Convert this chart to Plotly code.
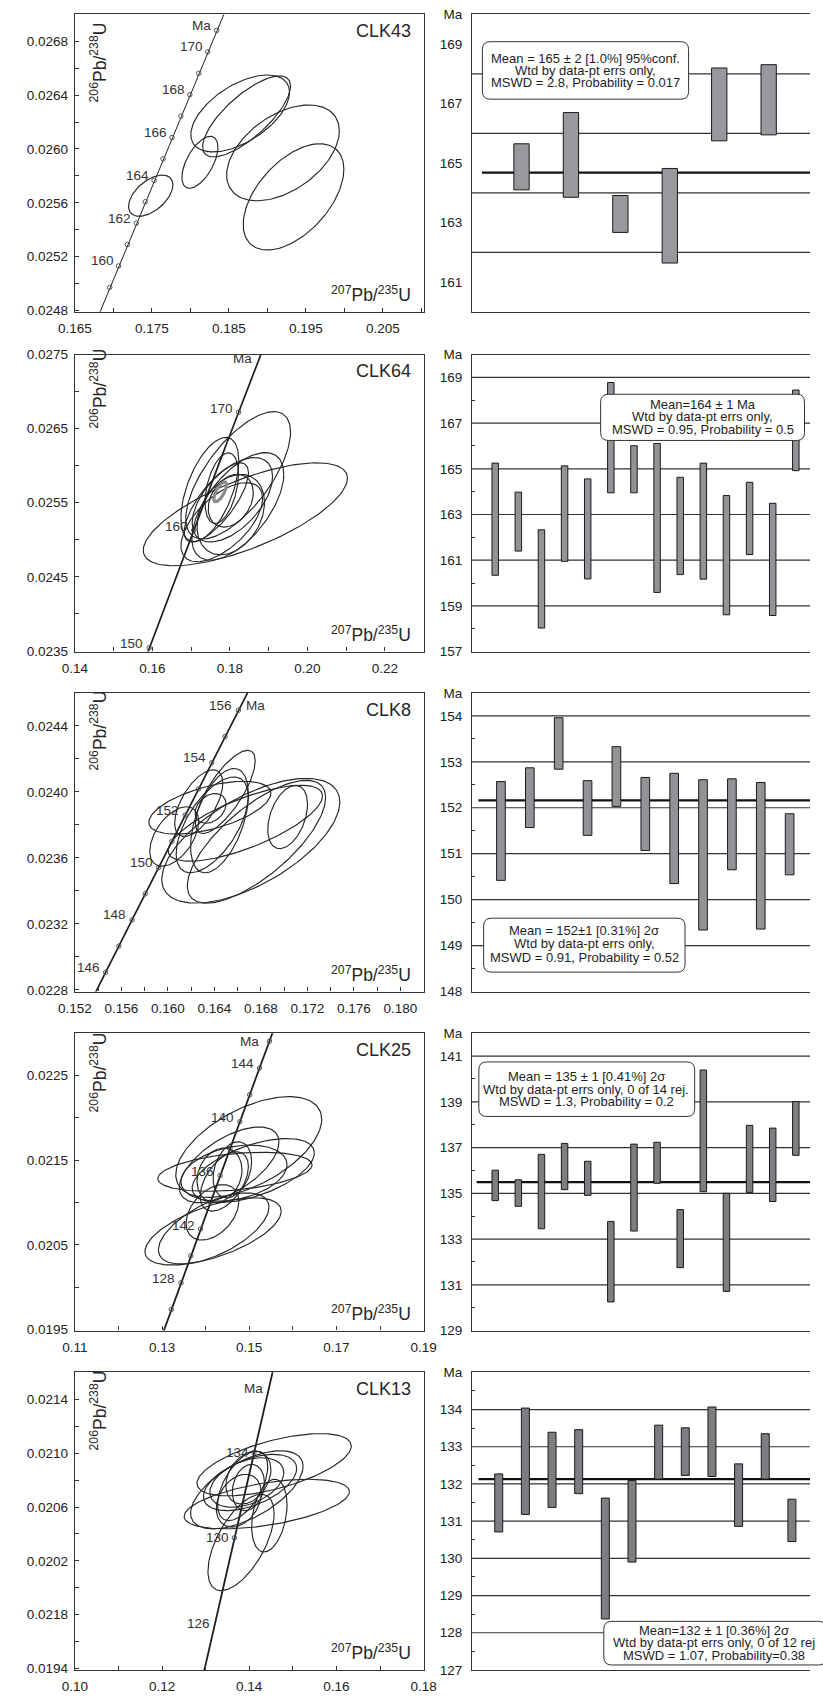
import numpy as np
import plotly.graph_objects as go

W, H = 823, 1703
FONT = "Arial, 'Liberation Sans', sans-serif"
INK = "#262626"

# U decay constants, per Ma
LAMBDA_238 = 1.55125e-4
LAMBDA_235 = 9.8485e-4

# ---------------- CLK43 ----------------
# ellipses: (207Pb/235U, 206Pb/238U, half-width x, half-width y, rho)
clk43_ellipses = [
    (0.17485, 0.025653, 0.00288, 0.000153, 0.52),
    (0.18124, 0.025901, 0.00234, 0.000193, 0.58),
    (0.18647, 0.026264, 0.00641, 0.000286, 0.55),
    (0.18730, 0.026242, 0.00571, 0.000301, 0.75),
    (0.19203, 0.025971, 0.00732, 0.000356, 0.46),
    (0.19340, 0.025644, 0.00654, 0.000395, 0.52),
]
clk43_marker_ages = list(range(159, 172))
clk43_age_labels = {160: "160", 162: "162", 164: "164", 166: "166", 168: "168", 170: "170"}
clk43_ma_label = (171, "right", -4, 5)
clk43_hi = [165.65, 166.70, 163.91, 164.82, 168.20, 168.31]
clk43_lo = [164.10, 163.85, 162.67, 161.64, 165.75, 165.95]
clk43_mean = 164.68
clk43_text = ["Mean = 165 ± 2 [1.0%] 95%conf.", "Wtd by data-pt errs only,",
              "MSWD = 2.8, Probability = 0.017"]

# ---------------- CLK64 ----------------
clk64_ellipses = [
    (0.18400, 0.025344, 0.02634, 0.000695, 0.70),
    (0.18214, 0.025870, 0.01352, 0.000860, 0.68),
    (0.17484, 0.025678, 0.00747, 0.000704, 0.55),
    (0.18206, 0.025451, 0.01186, 0.000726, 0.60),
    (0.18065, 0.025540, 0.01037, 0.000570, 0.55),
    (0.18023, 0.025340, 0.00871, 0.000543, 0.30),
    (0.17791, 0.025696, 0.00431, 0.000477, 0.40),
    (0.18023, 0.025527, 0.00581, 0.000356, 0.30),
    (0.17791, 0.025237, 0.01054, 0.000534, 0.60),
    (0.17650, 0.025504, 0.00830, 0.000534, 0.75),
]
clk64_mean_ellipse = (0.17749, 0.025647, 0.00166, 0.000134, 0.70)
clk64_marker_ages = [150, 160, 170]
clk64_age_labels = {150: "150", 160: "160", 170: "170"}
clk64_ma_label = (174.3, "right", -4, 3)
clk64_hi = [165.25, 163.98, 162.33, 165.13, 164.56, 168.78, 166.01, 166.11, 164.63, 165.25,
            163.83, 164.41, 163.49, 168.45]
clk64_lo = [160.34, 161.40, 158.03, 160.95, 160.18, 163.95, 163.95, 159.59, 160.37, 160.17,
            158.61, 161.25, 158.58, 164.92]
clk64_text = ["Mean=164 ± 1 Ma", "Wtd by data-pt errs only,", "MSWD = 0.95, Probability = 0.5"]

# ---------------- CLK8 ----------------
clk8_ellipses = [
    (0.16494, 0.024000, 0.00257, 0.000252, 0.75),
    (0.16444, 0.023826, 0.00249, 0.000316, 0.50),
    (0.16265, 0.023932, 0.00207, 0.000202, 0.60),
    (0.16713, 0.023704, 0.00766, 0.000378, 0.62),
    (0.16762, 0.023698, 0.00595, 0.000372, 0.72),
    (0.17030, 0.023848, 0.00171, 0.000192, 0.40),
    (0.16361, 0.023904, 0.00525, 0.000160, 0.55),
    (0.16054, 0.023730, 0.00210, 0.000180, 0.50),
    (0.16666, 0.023810, 0.00664, 0.000230, 0.72),
    (0.16381, 0.023800, 0.00310, 0.000290, 0.60),
    (0.16367, 0.023900, 0.00133, 0.000090, 0.30),
]
clk8_marker_ages = list(range(146, 157))
clk8_age_labels = {146: "146", 148: "148", 150: "150", 152: "152", 154: "154", 156: "156"}
clk8_ma_label = (156, "left", 6, 5)
clk8_hi = [152.57, 152.87, 153.96, 152.59, 153.33, 152.66, 152.75, 152.61, 152.63, 152.55, 151.87]
clk8_lo = [150.42, 151.57, 152.84, 151.40, 152.03, 151.07, 150.35, 149.34, 150.65, 149.36, 150.54]
clk8_mean = 152.16
clk8_text = ["Mean = 152±1 [0.31%] 2σ", "Wtd by data-pt errs only,",
             "MSWD = 0.91, Probability = 0.52"]

# ---------------- CLK25 ----------------
clk25_ellipses = [
    (0.14989, 0.021656, 0.01674, 0.000595, 0.55),
    (0.14539, 0.021446, 0.01143, 0.000447, 0.60),
    (0.14672, 0.021364, 0.01770, 0.000230, 0.35),
    (0.14650, 0.021348, 0.01217, 0.000331, 0.30),
    (0.15092, 0.021379, 0.01401, 0.000377, 0.55),
    (0.14318, 0.021321, 0.00516, 0.000323, 0.20),
    (0.14613, 0.021387, 0.00442, 0.000331, 0.30),
    (0.14170, 0.020660, 0.01563, 0.000397, 0.60),
    (0.14185, 0.020695, 0.01268, 0.000420, 0.60),
    (0.14156, 0.020885, 0.00605, 0.000327, 0.40),
    (0.14428, 0.021250, 0.00553, 0.000350, 0.50),
]
clk25_marker_ages = list(range(126, 148, 2))
clk25_age_labels = {128: "128", 132: "142", 136: "136", 140: "140", 144: "144"}
clk25_ma_label = (146, "right", -8, 0)
clk25_hi = [136.01, 135.59, 136.70, 137.18, 136.40, 133.77, 137.15, 137.23, 134.29, 140.39,
            135.00, 137.97, 137.85, 139.01]
clk25_lo = [134.68, 134.43, 133.45, 135.16, 134.91, 130.25, 133.35, 135.44, 131.75, 135.07,
            130.71, 135.04, 134.64, 136.66]
clk25_mean = 135.49
clk25_text = ["Mean = 135 ± 1 [0.41%] 2σ", "Wtd by data-pt errs only, 0 of 14 rej.",
              "MSWD = 1.3, Probability = 0.2"]

# ---------------- CLK13 ----------------
clk13_ellipses = [
    (0.14571, 0.020914, 0.01770, 0.000231, 0.60),
    (0.14402, 0.020622, 0.01895, 0.000184, 0.50),
    (0.13945, 0.020728, 0.01290, 0.000290, 0.60),
    (0.14018, 0.020782, 0.01069, 0.000209, 0.50),
    (0.13945, 0.020782, 0.00848, 0.000184, 0.40),
    (0.13812, 0.020337, 0.00759, 0.000358, 0.60),
    (0.14461, 0.020536, 0.00406, 0.000270, 0.30),
    (0.13981, 0.020818, 0.00516, 0.000196, 0.30),
    (0.13760, 0.020647, 0.00516, 0.000196, 0.30),
    (0.13981, 0.020745, 0.00369, 0.000172, 0.20),
    (0.13849, 0.020757, 0.00575, 0.000258, 0.55),
]
clk13_marker_ages = [130, 134]
clk13_age_labels = {126: "126", 130: "130", 134: "134"}
clk13_ma_label = (137.0, "right", -4, 0)
clk13_ytick_vals = [0.0194, 0.0198, 0.0202, 0.0206, 0.0210, 0.0214]
clk13_ytick_text = ["0.0194", "0.0218", "0.0202", "0.0206", "0.0210", "0.0214"]
clk13_hi = [132.27, 134.04, 133.39, 133.46, 131.62, 132.09, 133.58, 133.51, 134.07, 132.54,
            133.35, 131.59]
clk13_lo = [130.71, 131.18, 131.37, 131.74, 128.37, 129.90, 132.13, 132.23, 132.20, 130.86,
            132.13, 130.45]
clk13_mean = 132.13
clk13_text = ["Mean=132 ± 1 [0.36%] 2σ", "Wtd by data-pt errs only, 0 of 12 rej",
              "MSWD = 1.07, Probability=0.38"]

# ---------------- panel geometry (pixels) ----------------
ROW_Y = [(7.5, 307.5), (350.7, 650.3), (692.0, 993.3), (1035.3, 1335.3), (1377.5, 1677.7)]
LEFT_X = (60.0, 422.0)
RIGHT_X = (472.3, 823.0)


def px(x):
    return x / W


def py(y):
    return 1 - y / H


def concordia(t):
    t = np.asarray(t, dtype=float)
    return np.expm1(LAMBDA_235 * t), np.expm1(LAMBDA_238 * t)


def ellipse_xy(cx, cy, wx, wy, rho, n=160):
    t = np.linspace(0, 2 * np.pi, n)
    x = cx + wx * np.cos(t)
    y = cy + wy * (rho * np.cos(t) + np.sqrt(1 - rho ** 2) * np.sin(t))
    return x, y


def rounded_box(x0, y0, x1, y1, r=8):
    rx, ry = r / W, r / H
    X0, X1, Y0, Y1 = px(x0), px(x1), py(y0), py(y1)
    return (f"M {X0+rx},{Y0} L {X1-rx},{Y0} Q {X1},{Y0} {X1},{Y0-ry} "
            f"L {X1},{Y1+ry} Q {X1},{Y1} {X1-rx},{Y1} "
            f"L {X0+rx},{Y1} Q {X0},{Y1} {X0},{Y1+ry} "
            f"L {X0},{Y0-ry} Q {X0},{Y0} {X0+rx},{Y0} Z")


left_panels = [
    dict(name="CLK43", ell=clk43_ellipses, markers=clk43_marker_ages, labels=clk43_age_labels,
         ma=clk43_ma_label, xr=[0.16499, 0.2103], yr=[0.02479, 0.0270], xt0=0.165, xdt=0.01,
         xfmt=".3f", xmin=0.005, yt0=0.0248, ydt=0.0004, ymin=0.0002, ages=(150, 180),
         lw=1.0, lab_shift=(-3, 5), ytitle_y=56),
    dict(name="CLK64", ell=clk64_ellipses, markers=clk64_marker_ages, labels=clk64_age_labels,
         ma=clk64_ma_label, xr=[0.13999, 0.2300], yr=[0.02349, 0.0275], xt0=0.14, xdt=0.02,
         xfmt=".2f", xmin=0.01, yt0=0.0235, ydt=0.001, ymin=0.0005, ages=(140, 185),
         lw=1.7, lab_shift=(-4, 4), ytitle_y=385),
    dict(name="CLK8", ell=clk8_ellipses, markers=clk8_marker_ages, labels=clk8_age_labels,
         ma=clk8_ma_label, xr=[0.15199, 0.1820], yr=[0.02279, 0.0246], xt0=0.152, xdt=0.004,
         xfmt=".3f", xmin=0.002, yt0=0.0228, ydt=0.0004, ymin=0.0002, ages=(140, 162),
         lw=1.7, lab_shift=(-4, 5), ytitle_y=730),
    dict(name="CLK25", ell=clk25_ellipses, markers=clk25_marker_ages, labels=clk25_age_labels,
         ma=clk25_ma_label, xr=[0.10999, 0.1900], yr=[0.01949, 0.0230], xt0=0.11, xdt=0.02,
         xfmt=".2f", xmin=0.01, yt0=0.0195, ydt=0.001, ymin=0.0005, ages=(118, 152),
         lw=1.8, lab_shift=(-4, 4), ytitle_y=1075),
    dict(name="CLK13", ell=clk13_ellipses, markers=clk13_marker_ages, labels=clk13_age_labels,
         ma=clk13_ma_label, xr=[0.09999, 0.1800], yr=[0.01939, 0.0216], xt0=0.10, xdt=0.02,
         xfmt=".2f", xmin=0.01, yt0=0.0194, ydt=0.0004, ymin=0.0002, ages=(118, 142),
         lw=1.8, lab_shift=(-3, 0), ytitle_y=1416,
         ytickvals=clk13_ytick_vals, yticktext=clk13_ytick_text),
]

right_panels = [
    dict(hi=clk43_hi, lo=clk43_lo, mean=clk43_mean, mean_x0=0.2, yr=[160, 170],
         ticks=[161, 163, 165, 167, 169], minor=[], lines=[162, 164, 166, 168],
         step=51.3, bw=0.31, fill="#99999d", text=clk43_text,
         box=(483, 35, 697, 93), text_x=590, text_y=[51.5, 63.8, 76.1]),
    dict(hi=clk64_hi, lo=clk64_lo, mean=None, mean_x0=0, yr=[157, 170],
         ticks=[157, 159, 161, 163, 165, 167, 169], minor=[158, 160, 162, 164, 166, 168],
         lines=[159, 161, 163, 165, 167, 169], step=24.0, bw=0.28, fill="#939397",
         text=clk64_text, box=(605.7, 390.7, 817.3, 437.3), text_x=711.5,
         text_y=[401.0, 413.5, 426.0]),
    dict(hi=clk8_hi, lo=clk8_lo, mean=clk8_mean, mean_x0=0.22, yr=[148, 154.5],
         ticks=[148, 149, 150, 151, 152, 153, 154], minor=[148.5, 149.5, 150.5, 151.5, 152.5, 153.5],
         lines=[149, 150, 151, 152, 153, 154], step=29.96, bw=0.30, fill="#939397",
         text=clk8_text, box=(484.3, 919.3, 693.3, 973.7), text_x=588.5,
         text_y=[931.5, 945.0, 958.5]),
    dict(hi=clk25_hi, lo=clk25_lo, mean=clk25_mean, mean_x0=0.2, yr=[129, 142],
         ticks=[129, 131, 133, 135, 137, 139, 141], minor=[130, 132, 134, 136, 138, 140],
         lines=[131, 133, 135, 137, 139, 141], step=24.0, bw=0.28, fill="#7e7e82",
         text=clk25_text, box=(479.3, 1064.3, 703.3, 1119.3), text_x=591,
         text_y=[1079.3, 1091.8, 1104.3]),
    dict(hi=clk13_hi, lo=clk13_lo, mean=clk13_mean, mean_x0=0.24, yr=[127, 135],
         ticks=[127, 128, 129, 130, 131, 132, 133, 134],
         minor=[127.5, 128.5, 129.5, 130.5, 131.5, 132.5, 133.5, 134.5],
         lines=[128, 129, 130, 131, 132, 133, 134], step=27.66, bw=0.30, fill="#7e7e82",
         text=clk13_text, box=(609, 1628.7, 840, 1672.7), text_x=723,
         text_y=[1637.5, 1650.5, 1663.5]),
]

fig = go.Figure()
layout = dict(width=W, height=H, margin=dict(l=0, r=0, t=0, b=0), showlegend=False,
              paper_bgcolor="white", plot_bgcolor="rgba(0,0,0,0)",
              font=dict(family=FONT, color=INK))
shapes, annotations = [], []


def ids(i):
    s = "" if i == 1 else str(i)
    return "x" + s, "y" + s, "xaxis" + s, "yaxis" + s


for r, p in enumerate(left_panels):
    i = 2 * r + 1
    xid, yid, xkey, ykey = ids(i)
    top, bot = ROW_Y[r]

    # concordia curve
    t = np.linspace(p["ages"][0], p["ages"][1], 300)
    cx, cy = concordia(t)
    fig.add_trace(go.Scatter(x=cx, y=cy, mode="lines", line=dict(color="#1e1e1e", width=p["lw"]),
                             xaxis=xid, yaxis=yid, hoverinfo="skip"))
    # age ticks on the concordia
    mx, my = concordia(p["markers"])
    fig.add_trace(go.Scatter(x=mx, y=my, mode="markers",
                             marker=dict(symbol="circle-open", size=4.5, color="#555",
                                         line=dict(width=1)),
                             xaxis=xid, yaxis=yid, hoverinfo="skip", cliponaxis=True))
    # error ellipses
    for e in p["ell"]:
        ex, ey = ellipse_xy(*e)
        fig.add_trace(go.Scatter(x=ex, y=ey, mode="lines", line=dict(color="#262626", width=1.15),
                                 xaxis=xid, yaxis=yid, hoverinfo="skip"))
    if r == 1:
        ex, ey = ellipse_xy(*clk64_mean_ellipse)
        fig.add_trace(go.Scatter(x=ex, y=ey, mode="lines", line=dict(color="#8a8a8a", width=3.2),
                                 xaxis=xid, yaxis=yid, hoverinfo="skip"))

    # age labels
    for age, txt in p["labels"].items():
        ax_, ay_ = concordia([age])
        annotations.append(dict(x=float(ax_[0]), y=float(ay_[0]), xref=xid, yref=yid, text=txt,
                                showarrow=False, xanchor="right", yanchor="middle",
                                xshift=p["lab_shift"][0], yshift=p["lab_shift"][1],
                                font=dict(size=13.5, color="#333")))
    ma_age, side, sx, sy = p["ma"]
    ax_, ay_ = concordia([ma_age])
    annotations.append(dict(x=float(ax_[0]), y=float(ay_[0]), xref=xid, yref=yid, text="Ma",
                            showarrow=False, xanchor="right" if side == "right" else "left",
                            yanchor="middle", xshift=sx, yshift=sy,
                            font=dict(size=13.5, color="#333")))

    # sample name and axis titles inside the frame
    annotations.append(dict(x=px(411), y=py(top + 17), xref="paper", yref="paper", text=p["name"],
                            showarrow=False, xanchor="right", yanchor="middle",
                            font=dict(size=18, color=INK)))
    annotations.append(dict(x=px(411), y=py(bot - 18), xref="paper", yref="paper",
                            text="<sup>207</sup>Pb/<sup>235</sup>U", showarrow=False,
                            xanchor="right", yanchor="middle", font=dict(size=17.5, color=INK)))
    annotations.append(dict(x=px(84), y=py(p["ytitle_y"]), xref="paper", yref="paper",
                            text="<sup>206</sup>Pb/<sup>238</sup>U", showarrow=False,
                            textangle=-90, xanchor="center", yanchor="middle",
                            font=dict(size=17.5, color=INK)))

    xa = dict(domain=[px(LEFT_X[0]), px(LEFT_X[1])], anchor=yid, range=p["xr"],
              showline=True, mirror=True, linecolor="#333", linewidth=1.2,
              ticks="inside", ticklen=4, tickcolor="#333", tick0=p["xt0"], dtick=p["xdt"],
              tickformat=p["xfmt"], tickfont=dict(size=13.5, color="#222"),
              minor=dict(ticks="inside", ticklen=4, tickcolor="#333", dtick=p["xmin"],
                         tick0=p["xt0"]),
              showgrid=False, zeroline=False, ticklabelstandoff=4, fixedrange=True)
    ya = dict(domain=[py(bot), py(top)], anchor=xid, range=p["yr"],
              showline=True, mirror=True, linecolor="#333", linewidth=1.2,
              ticks="inside", ticklen=4, tickcolor="#333", tickformat=".4f",
              tickfont=dict(size=13.5, color="#222"),
              minor=dict(ticks="inside", ticklen=4, tickcolor="#333", dtick=p["ymin"],
                         tick0=p["yt0"]),
              showgrid=False, zeroline=False, ticklabelstandoff=3, fixedrange=True)
    if "ytickvals" in p:
        ya.update(tickmode="array", tickvals=p["ytickvals"], ticktext=p["yticktext"])
    else:
        ya.update(tick0=p["yt0"], dtick=p["ydt"])
    layout[xkey] = xa
    layout[ykey] = ya

for r, p in enumerate(right_panels):
    i = 2 * r + 2
    xid, yid, xkey, ykey = ids(i)
    top, bot = ROW_Y[r]
    n = len(p["hi"])
    xmax = (RIGHT_X[1] - RIGHT_X[0]) / p["step"]

    fig.add_trace(go.Bar(x=list(range(1, n + 1)),
                         y=[h - l for h, l in zip(p["hi"], p["lo"])], base=p["lo"],
                         width=p["bw"], marker=dict(color=p["fill"],
                                                    line=dict(color="#1a1a1a", width=1)),
                         xaxis=xid, yaxis=yid, hoverinfo="skip"))

    for v in p["lines"]:
        shapes.append(dict(type="line", xref=f"{xid} domain", x0=0, x1=1, yref=yid, y0=v, y1=v,
                           line=dict(color="#333", width=1.2), layer="below"))
    if p["mean"] is not None:
        shapes.append(dict(type="line", xref=xid, x0=p["mean_x0"], x1=xmax, yref=yid,
                           y0=p["mean"], y1=p["mean"], line=dict(color="#111", width=2.2),
                           layer="below"))

    bx0, by0, bx1, by1 = p["box"]
    shapes.append(dict(type="path", xref="paper", yref="paper",
                       path=rounded_box(bx0, by0, bx1, by1, r=8),
                       fillcolor="white", line=dict(color="#333", width=1), layer="above"))
    for txt, ty in zip(p["text"], p["text_y"]):
        annotations.append(dict(x=px(p["text_x"]), y=py(ty), xref="paper", yref="paper",
                                text=txt, showarrow=False, xanchor="center", yanchor="middle",
                                font=dict(size=13, color="#1e1e1e")))

    tickvals = p["ticks"] + [p["yr"][1]]
    ticktext = [str(v) for v in p["ticks"]] + ["Ma"]
    layout[xkey] = dict(domain=[px(RIGHT_X[0]), 1.0], anchor=yid, range=[0, xmax],
                        showline=True, mirror=True, linecolor="#333", linewidth=1.2,
                        showticklabels=False, ticks="", showgrid=False, zeroline=False,
                        fixedrange=True)
    ya = dict(domain=[py(bot), py(top)], anchor=xid, range=p["yr"], showline=True, mirror=False,
              linecolor="#333", linewidth=1.2, tickmode="array", tickvals=tickvals,
              ticktext=ticktext, ticks="", tickfont=dict(size=13.5, color="#222"),
              showgrid=False, zeroline=False, ticklabelstandoff=6, fixedrange=True)
    if p["minor"]:
        ya["minor"] = dict(ticks="inside", ticklen=3, tickcolor="#333", tickmode="array",
                           tickvals=p["minor"])
    layout[ykey] = ya

layout["shapes"] = shapes
layout["annotations"] = annotations
fig.update_layout(**layout)
fig.write_html("out.html")
